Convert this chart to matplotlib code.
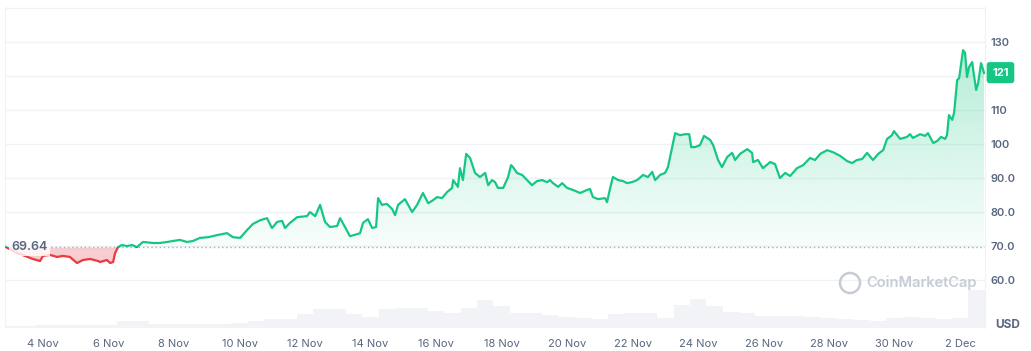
import numpy as np
import matplotlib.pyplot as plt
from matplotlib.patches import Rectangle, Circle
from matplotlib.transforms import IdentityTransform

plt.rcParams['font.family'] = ['Inter', 'DejaVu Sans']

GREEN = '#16c784'
RED = '#ea3943'
GREY = '#58667e'
GRID = '#eff2f5'

base_price = 69.64
last_price = 121

# time in days counted from 4 Nov 00:00
price_days = [-1.13, -0.85, -0.55, -0.31, -0.09, 0.00, 0.21, 0.43, 0.61, 0.82,
              1.04, 1.22, 1.44, 1.68, 1.74, 1.95, 2.05, 2.14, 2.20, 2.29,
              2.41, 2.56, 2.72, 2.87, 3.05, 3.36, 3.57, 3.79, 3.97, 4.18,
              4.40, 4.58, 4.79, 5.04, 5.31, 5.62, 5.80, 6.02, 6.23, 6.41,
              6.63, 6.84, 6.99, 7.15, 7.30, 7.39, 7.54, 7.76, 8.06, 8.15,
              8.31, 8.46, 8.61, 8.76, 8.98, 9.07, 9.22, 9.37, 9.59, 9.68,
              9.77, 9.92, 10.05, 10.17, 10.23, 10.35, 10.50, 10.66, 10.75, 10.84,
              11.05, 11.27, 11.42, 11.60, 11.76, 11.91, 12.03, 12.18, 12.34, 12.49,
              12.52, 12.67, 12.73, 12.82, 12.92, 13.04, 13.19, 13.34, 13.50, 13.59,
              13.71, 13.80, 13.89, 14.05, 14.20, 14.29, 14.35, 14.47, 14.63, 14.78,
              14.93, 15.08, 15.24, 15.39, 15.48, 15.57, 15.73, 15.85, 16.00, 16.18,
              16.40, 16.61, 16.70, 16.79, 16.95, 17.16, 17.22, 17.31, 17.40, 17.56,
              17.71, 17.83, 17.98, 18.14, 18.32, 18.47, 18.60, 18.69, 18.84, 18.99,
              19.08, 19.21, 19.30, 19.45, 19.60, 19.73, 19.79, 19.91, 20.06, 20.18,
              20.37, 20.46, 20.61, 20.73, 20.89, 21.04, 21.13, 21.28, 21.50, 21.65,
              21.68, 21.83, 21.98, 22.20, 22.35, 22.50, 22.66, 22.81, 23.02, 23.21,
              23.42, 23.57, 23.73, 23.94, 24.12, 24.34, 24.55, 24.70, 24.85, 25.01,
              25.16, 25.34, 25.50, 25.65, 25.77, 25.92, 25.98, 26.17, 26.38, 26.47,
              26.56, 26.78, 26.93, 27.02, 27.18, 27.30, 27.42, 27.54, 27.60, 27.66,
              27.76, 27.82, 27.91, 27.97, 28.09, 28.15, 28.21, 28.27, 28.37, 28.40,
              28.49, 28.55, 28.64, 28.70, 28.73]
price = [69.7, 68.2, 67.1, 66.2, 65.6, 67.1, 67.4, 66.8, 67.1, 66.8,
         65.0, 65.9, 66.2, 65.6, 65.3, 65.9, 65.0, 65.3, 67.9, 69.7,
         70.3, 70.0, 70.3, 69.7, 71.2, 70.9, 70.9, 71.2, 71.5, 71.8,
         71.2, 71.5, 72.4, 72.6, 73.2, 73.8, 72.6, 72.4, 74.7, 76.5,
         77.6, 78.2, 75.3, 77.1, 77.4, 75.3, 76.8, 78.5, 78.8, 80.0,
         78.8, 82.1, 77.1, 75.6, 75.9, 78.2, 75.6, 72.9, 73.5, 73.8,
         76.8, 77.9, 75.3, 75.6, 84.1, 82.1, 82.4, 80.9, 79.1, 82.1,
         83.8, 80.0, 82.1, 85.6, 82.6, 83.5, 84.4, 84.1, 85.9, 87.1,
         89.4, 87.4, 92.9, 89.4, 97.1, 95.9, 91.5, 90.3, 91.5, 87.9,
         89.4, 88.8, 87.1, 87.1, 90.3, 93.8, 93.2, 91.5, 90.9, 89.4,
         87.9, 89.1, 89.4, 88.8, 89.4, 88.5, 87.4, 88.5, 87.1, 86.5,
         85.6, 86.5, 86.8, 84.4, 83.8, 84.1, 82.9, 86.8, 90.3, 89.4,
         89.1, 88.5, 88.8, 89.4, 90.9, 90.3, 91.8, 89.4, 90.9, 91.5,
         93.2, 99.1, 103.2, 102.6, 102.9, 102.9, 99.1, 99.1, 99.7, 102.4,
         101.2, 99.7, 95.3, 93.2, 96.2, 97.4, 95.3, 97.1, 98.5, 97.4,
         94.7, 95.3, 92.9, 94.7, 94.1, 90.0, 91.5, 90.6, 92.9, 93.8,
         95.9, 95.3, 97.1, 98.2, 97.6, 96.5, 95.0, 94.4, 95.3, 95.6,
         97.4, 95.3, 97.1, 98.2, 101.5, 102.6, 103.8, 101.5, 102.1, 102.9,
         101.8, 102.9, 102.4, 103.2, 100.3, 100.9, 102.1, 101.5, 102.6, 108.5,
         107.1, 109.4, 118.8, 119.4, 127.6, 126.8, 119.7, 122.6, 124.1, 121.8,
         115.9, 117.9, 123.8, 121.8, 120.9]

# volume, one bar per half day (relative units)
vol_days = np.arange(-1.0, 28.51, 0.5)
volume = [2.4, 2.4, 3, 3.4, 3.4, 3, 3.5, 7, 7, 4.5,
          4.5, 4.5, 4.5, 4.5, 5, 7, 9, 9.5, 14, 19,
          19, 14, 11, 19, 20, 20, 17, 15.5, 20, 28,
          22, 15.5, 15.5, 13, 11, 10, 9.5, 14, 15.5, 15.5,
          10, 23, 29, 22, 16, 15, 12, 12, 12, 11,
          10, 9, 8, 7, 10, 11, 10, 8.6, 10, 38]

tick_days = [0, 2, 4, 6, 8, 10, 12, 14, 16, 18, 20, 22, 24, 26, 28]
tick_labels = ['4 Nov', '6 Nov', '8 Nov', '10 Nov', '12 Nov', '14 Nov', '16 Nov',
               '18 Nov', '20 Nov', '22 Nov', '24 Nov', '26 Nov', '28 Nov',
               '30 Nov', '2 Dec']
price_ticks = [60, 70, 80, 90, 100, 110, 130]
price_tick_labels = ['60.0', '70.0', '80.0', '90.0', '100', '110', '130']
grid_levels = [60, 70, 80, 90, 100, 110, 120, 130, 140]

days = np.array(price_days)
p = np.array(price)

W, H = 1031, 351
fig = plt.figure(figsize=(W / 100, H / 100), dpi=100)
rect = [5 / W, 23 / H, 980 / W, 321 / H]
ax = fig.add_axes(rect)
ax.set_xlim(-1.16, 28.76)
ax.set_ylim(45.9, 140.3)
x0, x1 = ax.get_xlim()

# volume behind everything
vax = ax.twinx()
vax.set_ylim(0, 321)
vax.bar(vol_days, volume, width=0.5, color='#f1f3f6', linewidth=0)
vax.axis('off')
vax.set_zorder(0)
ax.set_zorder(1)
ax.patch.set_visible(False)

for lv in grid_levels:
    ax.axhline(lv, color=GRID, lw=1, zorder=0)

# green gradient fill above baseline
area = ax.fill_between(days, p, base_price, facecolor='none', edgecolor='none')
top = p.max()
n = 256
grad = np.zeros((n, 1, 4))
grad[:, 0, :3] = [0x16 / 255, 0xc7 / 255, 0x84 / 255]
grad[:, 0, 3] = np.linspace(0.03, 0.32, n)
img = ax.imshow(grad, extent=[x0, x1, base_price, top], origin='lower',
                aspect='auto', interpolation='bicubic', zorder=1)
img.set_clip_path(area.get_paths()[0], transform=ax.transData)
ax.set_xlim(x0, x1)
ax.set_ylim(45.9, 140.3)

# red fill below baseline
ax.fill_between(days, p, base_price, where=p < base_price, interpolate=True,
                color=RED, alpha=0.25, lw=0, zorder=1)

ax.axhline(base_price, color='#a6b0c3', lw=1, ls=(0, (1, 2)), zorder=2)

above = Rectangle((x0, base_price), x1 - x0, 200, transform=ax.transData)
below = Rectangle((x0, base_price - 200), x1 - x0, 200, transform=ax.transData)
lg, = ax.plot(days, p, color=GREEN, lw=1.6, zorder=3, solid_joinstyle='round')
lg.set_clip_path(above)
lr, = ax.plot(days, p, color=RED, lw=1.6, zorder=3, solid_joinstyle='round')
lr.set_clip_path(below)

ax.text(-0.97, base_price, '69.64', ha='left', va='center', fontsize=9,
        color=GREY, fontweight='semibold', zorder=4,
        bbox=dict(boxstyle='square,pad=0.2', fc='white', ec='none', alpha=0.8))

# axes styling
ax.yaxis.tick_right()
ax.set_yticks(price_ticks, price_tick_labels)
ax.set_xticks(tick_days, tick_labels)
ax.tick_params(axis='y', length=0, pad=4, labelsize=8, labelcolor=GREY)
ax.tick_params(axis='x', length=0, pad=8, labelsize=8, labelcolor=GREY)
for lab in ax.get_yticklabels():
    lab.set_fontweight('semibold')
for s in ['top', 'bottom']:
    ax.spines[s].set_visible(False)
for s in ['left', 'right']:
    ax.spines[s].set_color(GRID)

ax.annotate(str(last_price), xy=(1.0158, last_price),
            xycoords=('axes fraction', 'data'), ha='center', va='center',
            fontsize=8, color='white', fontweight='bold', annotation_clip=False,
            bbox=dict(boxstyle='round,pad=0.5,rounding_size=0.25', fc=GREEN, ec='none'))

fig.text(1008 / W, 1 - 325 / H, 'USD', ha='center', va='center', fontsize=8.5,
         color=GREY, fontweight='bold')

# watermark
wm = '#c6ccd6'
fig.patches.append(Circle((850, H - 283), 10, transform=IdentityTransform(),
                          fill=False, ec=wm, lw=1.8))
fig.text(866 / W, 1 - 283 / H, 'CoinMarketCap', ha='left', va='center',
         fontsize=10.5, color=wm, fontweight='semibold')

fig.savefig('out.png', dpi=100)
